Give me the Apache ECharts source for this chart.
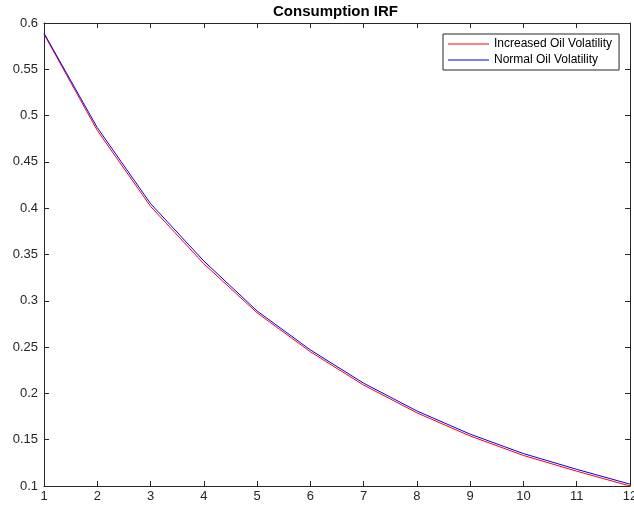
<!DOCTYPE html>
<html lang="en">
<head>
    <meta charset="UTF-8">
    <title>Consumption IRF</title>
    <style>
        html, body { margin: 0; padding: 0; background: #fff; }
        #main { width: 634px; height: 508px; }
    </style>
</head>
<body>
    <div id="main"></div>
    <script src="https://cdn.jsdelivr.net/npm/echarts@6/dist/echarts.min.js"></script>
    <script>
        // horizon 1..12
        var periods = [1, 2, 3, 4, 5, 6, 7, 8, 9, 10, 11, 12];
        var increasedVol = [0.588, 0.484, 0.402, 0.340, 0.287, 0.245, 0.209, 0.179, 0.154, 0.133, 0.116, 0.100];
        var normalVol = [0.589, 0.487, 0.405, 0.343, 0.289, 0.247, 0.211, 0.181, 0.156, 0.135, 0.118, 0.102];
        var seriesNames = ['Increased Oil Volatility', 'Normal Oil Volatility'];

        var myChart = echarts.init(document.getElementById('main'));
        var axisColor = '#262626';
        var font = 'Helvetica, Arial, "Liberation Sans", sans-serif';

        function pairs(vals) {
            return periods.map(function (p, i) { return [p, vals[i]]; });
        }

        var boxAxis = {
            axisLine: { show: true, onZero: false, lineStyle: { color: axisColor, width: 1 } },
            axisTick: { show: true, inside: true, length: 5, lineStyle: { color: axisColor } },
            splitLine: { show: false }
        };

        var option = {
            animation: false,
            backgroundColor: '#fff',
            title: {
                text: 'Consumption IRF',
                left: 273,
                top: 4,
                padding: 0,
                textStyle: { fontFamily: font, fontSize: 15, fontWeight: 'bold', color: '#000' }
            },
            legend: {
                data: seriesNames,
                orient: 'vertical',
                left: 443,
                top: 34,
                padding: [3, 7, 3, 5],
                itemGap: 2,
                itemWidth: 41,
                itemHeight: 1,
                icon: 'rect',
                backgroundColor: '#fff',
                borderColor: axisColor,
                borderWidth: 1,
                textStyle: { fontFamily: font, fontSize: 12, color: '#000', lineHeight: 14 }
            },
            grid: { left: 44, right: 4, top: 23, bottom: 22, containLabel: false, outerBoundsMode: 'none' },
            xAxis: [
                Object.assign({
                    type: 'value', min: 1, max: 12, interval: 1, position: 'bottom',
                    axisLabel: { color: axisColor, fontFamily: font, fontSize: 13, margin: 4 }
                }, boxAxis),
                Object.assign({
                    type: 'value', min: 1, max: 12, interval: 1, position: 'top',
                    axisLabel: { show: false }
                }, boxAxis)
            ],
            yAxis: [
                Object.assign({
                    type: 'value', min: 0.1, max: 0.6, interval: 0.05, position: 'left',
                    axisLabel: {
                        color: axisColor, fontFamily: font, fontSize: 13, margin: 6,
                        formatter: function (v) { return String(+v.toFixed(2)); }
                    }
                }, boxAxis),
                Object.assign({
                    type: 'value', min: 0.1, max: 0.6, interval: 0.05, position: 'right',
                    axisLabel: { show: false }
                }, boxAxis)
            ],
            series: [
                {
                    name: seriesNames[0],
                    type: 'line',
                    data: pairs(increasedVol),
                    symbol: 'none',
                    color: '#ff0000',
                    lineStyle: { width: 1, color: '#ff0000' }
                },
                {
                    name: seriesNames[1],
                    type: 'line',
                    data: pairs(normalVol),
                    symbol: 'none',
                    color: '#0000ff',
                    lineStyle: { width: 1, color: '#0000ff' }
                }
            ]
        };
        myChart.setOption(option);
    </script>
</body>
</html>
